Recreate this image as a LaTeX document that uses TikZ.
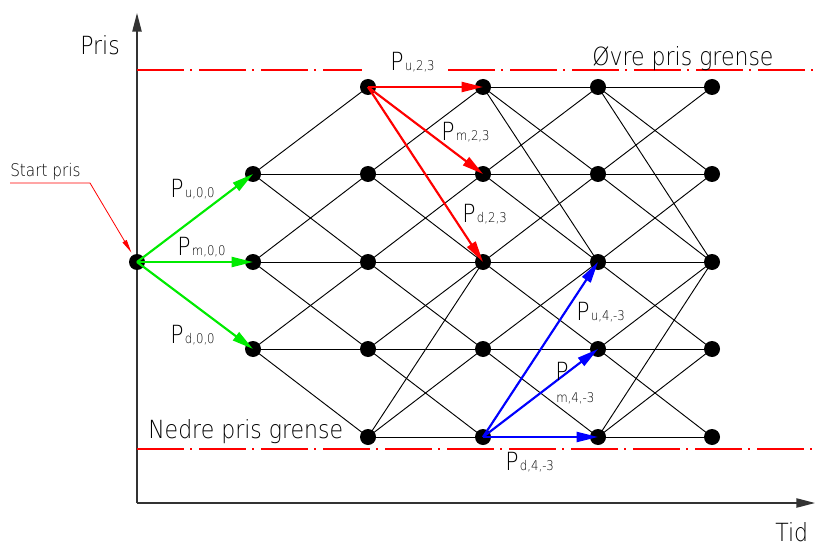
\documentclass[tikz,border=0pt]{standalone}
\usepackage{fontspec}
\setmainfont{DejaVu Sans ExtraLight}[FakeStretch=0.88]
\usetikzlibrary{arrows.meta}
\definecolor{limegreen}{RGB}{0,235,0}
\newcommand\Plbl[1]{P\kern1pt{\fontsize{10}{11}\selectfont #1}}
\begin{document}
\begin{tikzpicture}[x=0.75pt,y=-0.75pt,
  dot/.style={circle,fill=black,inner sep=0pt,minimum size=12pt},
  edge/.style={line width=0.7pt,black},
  axis/.style={line width=1pt,black!80,-{Triangle[length=14pt,width=7pt]}},
  limit/.style={red,line width=0.8pt,dash pattern=on 35pt off 5pt on 1.5pt off 5pt},
  prob/.style={line width=1.6pt,-{Triangle[length=16pt,width=7.5pt]}},
  leader/.style={red,line width=0.6pt,-{Triangle[length=10pt,width=3.5pt]}},
  lbl/.style={anchor=base west,inner sep=0pt,font=\fontsize{18.75}{20}\selectfont},
  slbl/.style={anchor=base west,inner sep=0pt,font=\fontsize{13}{14}\selectfont},
  sub/.style={anchor=base west,inner sep=0pt,font=\fontsize{10}{11}\selectfont}]
\useasboundingbox (0,0) rectangle (816,545);
% axes
\coordinate (O) at (137,503);
\coordinate (ytop) at (137,13);
\coordinate (xend) at (815,503);
\draw[axis] (O) -- (ytop);
\draw[axis] (O) -- (xend);
% limit lines
\coordinate (u1) at (137,70);
\coordinate (u2) at (362,70);
\coordinate (u3) at (448,70);
\coordinate (u4) at (816,70);
\coordinate (l1) at (137,449);
\coordinate (l2) at (816,449);
\draw[limit] (u1) -- (u2);
\draw[limit] (u3) -- (u4);
\draw[limit] (l1) -- (l2);
% nodes
\node[dot] (n02) at (137,262) {};
\node[dot] (n11) at (253,174) {};
\node[dot] (n12) at (253,262) {};
\node[dot] (n13) at (253,349) {};
\foreach \c/\x in {2/368,3/483,4/598,5/712}
  \foreach \r/\y in {0/87,1/174,2/262,3/349,4/437}
    \node[dot] (n\c\r) at (\x,\y) {};
% edges
\foreach \r/\s in {1/0,1/1,1/2,2/1,2/2,2/3,3/2,3/3,3/4}
  \draw[edge] (n1\r.center) -- (n2\s.center);
\foreach \c/\d in {2/3,3/4,4/5}
  \foreach \r/\s in {0/0,0/1,0/2,1/0,1/1,1/2,2/1,2/2,2/3,3/2,3/3,3/4,4/4,4/3,4/2}
    \draw[edge] (n\c\r.center) -- (n\d\s.center);
% probability arrows
\foreach \t in {n11,n12,n13}
  \draw[prob,limegreen] (n02.center) -- (\t.center);
\foreach \t in {n30,n31,n32}
  \draw[prob,red] (n20.center) -- (\t.center);
\foreach \t in {n42,n43,n44}
  \draw[prob,blue] (n34.center) -- (\t.center);
% start price leader
\coordinate (sp1) at (10,183);
\coordinate (sp2) at (90,183);
\draw[leader,shorten >=2pt] (sp1) -- (sp2) -- (n02);
% texts
\node[lbl] (pris) at (80,55) {Pris};
\node[lbl] (tid) at (775,541) {Tid};
\node[lbl] (ovre) at (592,66) {Øvre pris grense};
\node[lbl] (nedre) at (148,438) {Nedre pris grense};
\node[slbl] (start) at (10,177) {Start pris};
\node[lbl] (pu00) at (170,198) {\Plbl{u,0,0}};
\node[lbl] (pm00) at (177,255) {\Plbl{m,0,0}};
\node[lbl] (pd00) at (170,343) {\Plbl{d,0,0}};
\node[lbl] (pu23) at (390,71) {\Plbl{u,2,3}};
\node[lbl] (pm23) at (441,141) {\Plbl{m,2,3}};
\node[lbl] (pd23) at (462,223) {\Plbl{d,2,3}};
\node[lbl] (pu43) at (576,320) {\Plbl{u,4,-3}};
\node[lbl] (pm43) at (555,380) {P};
\node[sub] (pm43s) at (556,402) {m,4,-3};
\node[lbl] (pd43) at (505,470) {\Plbl{d,4,-3}};
\end{tikzpicture}
\end{document}
